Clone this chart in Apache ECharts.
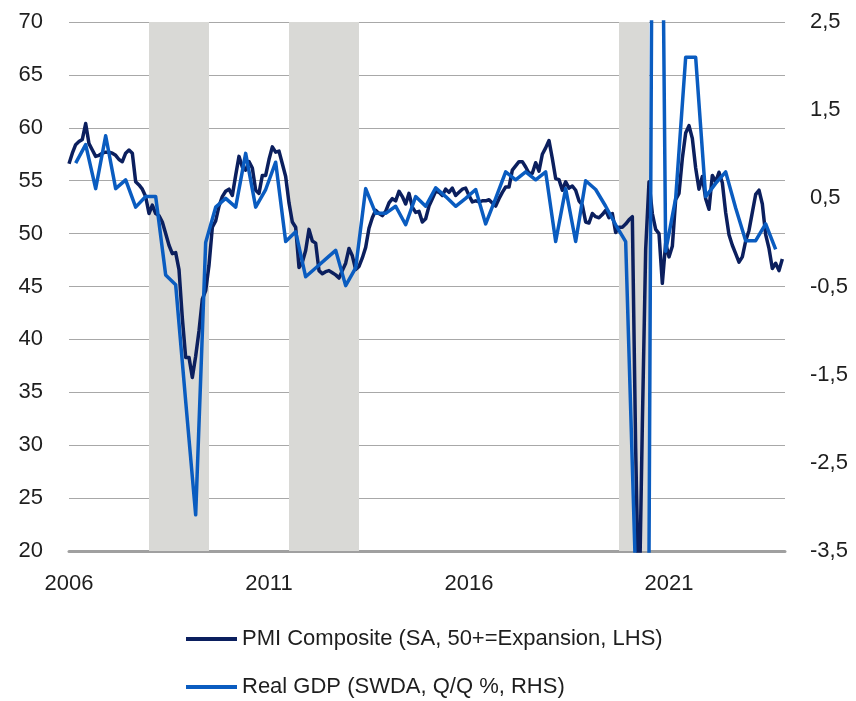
<!DOCTYPE html>
<html>
<head>
<meta charset="utf-8">
<script src="https://cdn.jsdelivr.net/npm/echarts@6/dist/echarts.min.js"></script>
<style>
html,body{margin:0;padding:0;background:#fff;}
#chart{width:856px;height:701px;}
</style>
</head>
<body>
<div id="chart"></div>
<script>
// Monthly PMI Composite, Jan 2006 .. Nov 2023
const pmiStartYear = 2006;
const pmiValues = [
  56.6,57.6,58.4,58.7,58.9,60.4,58.5,57.9,57.3,57.4,57.6,57.7,
  57.7,57.6,57.4,57.0,56.8,57.6,57.9,57.6,54.9,54.6,54.2,53.5,
  51.9,52.7,51.9,51.7,51.1,50.0,48.9,48.1,48.2,46.6,42.0,38.3,
  38.3,36.4,38.4,40.8,43.8,44.6,47.0,50.6,51.2,52.6,53.5,54.0,
  54.2,53.6,55.5,57.3,56.3,56.0,56.8,56.2,54.1,53.8,55.5,55.5,
  57.0,58.2,57.7,57.8,56.6,55.4,52.9,51.1,50.6,46.8,47.3,48.4,
  50.4,49.3,49.1,46.5,46.2,46.4,46.5,46.3,46.1,45.8,46.5,47.2,
  48.6,47.9,46.6,46.9,47.7,48.7,50.5,51.5,52.2,51.9,51.7,52.1,
  52.9,53.3,53.1,54.0,53.5,52.8,53.8,52.5,52.0,52.1,51.1,51.4,
  52.6,53.3,54.0,53.9,53.6,54.2,53.9,54.3,53.6,53.9,54.2,54.3,
  53.6,53.0,53.1,53.0,53.1,53.1,53.2,52.9,52.6,53.3,53.9,54.4,
  54.4,56.0,56.4,56.8,56.8,56.3,55.7,55.7,56.7,55.9,57.5,58.1,
  58.8,57.1,55.2,55.1,54.1,54.9,54.3,54.5,54.1,53.1,52.7,51.1,
  51.0,51.9,51.6,51.5,51.8,52.2,51.5,51.9,50.1,50.6,50.6,50.9,
  51.3,51.6,29.7,13.6,31.9,48.5,54.9,51.9,50.4,50.0,45.3,49.1,
  47.8,48.8,53.2,53.8,57.1,59.5,60.2,59.0,56.2,54.2,55.4,53.3,
  52.3,55.5,54.9,55.8,54.8,52.0,49.9,48.9,48.1,47.3,47.8,49.3,
  50.3,52.0,53.7,54.1,52.8,49.9,48.6,46.7,47.2,46.5,47.6
];
// Quarterly real GDP Q/Q %, 2006Q1 .. 2023Q3
const gdpStartYear = 2006;
const gdpValues = [
  0.90,1.11,0.61,1.21,
  0.61,0.71,0.40,0.52,
  0.52,-0.37,-0.48,-1.80,
  -3.09,0.00,0.40,0.50,
  0.40,1.01,0.40,0.60,
  0.91,0.01,0.12,-0.39,
  -0.29,-0.19,-0.09,-0.49,
  -0.29,0.61,0.33,0.33,
  0.41,0.20,0.52,0.41,
  0.62,0.52,0.41,0.50,
  0.60,0.21,0.50,0.80,
  0.71,0.80,0.71,0.80,
  0.01,0.61,0.01,0.70,
  0.60,0.41,0.20,0.01,
  -3.80,-11.60,12.40,-0.10,
  0.50,2.10,2.10,0.52,
  0.67,0.80,0.39,0.02,
  0.02,0.21,-0.08
];
// Recession periods (decimal years)
const recessionStarts = [2008.0, 2011.5, 2019.75];
const recessionEnds   = [2009.5, 2013.25, 2020.5];
// Axis settings
const xMin = 2006, xMax = 2023.9, xStep = 5;
const leftMin = 20, leftMax = 70, leftStep = 5;
const rightMin = -3.5, rightMax = 2.5, rightStep = 1;
const pmiName = 'PMI Composite (SA, 50+=Expansion, LHS)';
const gdpName = 'Real GDP (SWDA, Q/Q %, RHS)';

const pmiData = pmiValues.map((v, i) => [pmiStartYear + i / 12, v]);
const gdpData = gdpValues.map((v, i) => [gdpStartYear + (3 * i + 2) / 12, v]);
const areas = recessionStarts.map((s, i) => [{xAxis: s}, {xAxis: recessionEnds[i]}]);

const FONT = 'Liberation Sans';
const TXT = '#1e1e1e';
const legendBase = {
  orient: 'horizontal',
  left: 181,
  itemWidth: 51,
  itemHeight: 4,
  icon: 'rect',
  textStyle: {fontFamily: FONT, fontSize: 22, color: TXT, lineHeight: 26}
};
const chart = echarts.init(document.getElementById('chart'), null, {renderer: 'canvas'});
chart.setOption({
  animation: false,
  backgroundColor: '#ffffff',
  textStyle: {fontFamily: FONT},
  grid: {left: 69, top: 22, width: 716, height: 529, containLabel: false},
  legend: [
    Object.assign({}, legendBase, {top: 621, data: [pmiName]}),
    Object.assign({}, legendBase, {top: 669, data: [gdpName]})
  ],
  xAxis: {
    type: 'value',
    min: xMin, max: xMax, interval: xStep,
    axisLine: {show: true, onZero: false, lineStyle: {color: '#a0a0a0', width: 3}},
    axisTick: {show: false},
    splitLine: {show: false},
    axisLabel: {
      fontFamily: FONT, fontSize: 22, color: TXT, margin: 22,
      showMaxLabel: false,
      formatter: v => String(Math.round(v))
    }
  },
  yAxis: [{
    type: 'value',
    min: leftMin, max: leftMax, interval: leftStep,
    position: 'left',
    axisLine: {show: false},
    axisTick: {show: false},
    splitLine: {show: true, lineStyle: {color: '#a8a8a8', width: 1}},
    axisLabel: {fontFamily: FONT, fontSize: 22, color: TXT, margin: 26}
  }, {
    type: 'value',
    min: rightMin, max: rightMax, interval: rightStep,
    position: 'right',
    axisLine: {show: false},
    axisTick: {show: false},
    splitLine: {show: false},
    axisLabel: {
      fontFamily: FONT, fontSize: 22, color: TXT, margin: 25,
      formatter: v => v.toFixed(1).replace('.', ',')
    }
  }],
  series: [{
    name: 'recessions',
    type: 'line',
    data: [],
    z: 1,
    silent: true,
    markArea: {silent: true, itemStyle: {color: '#d9d9d6'}, data: areas}
  }, {
    name: pmiName,
    type: 'line',
    yAxisIndex: 0,
    data: pmiData,
    showSymbol: false,
    symbol: 'none',
    clip: true,
    z: 3,
    color: '#0b1f5e',
    lineStyle: {color: '#0b1f5e', width: 3.5, join: 'round'}
  }, {
    name: gdpName,
    type: 'line',
    yAxisIndex: 1,
    data: gdpData,
    showSymbol: false,
    symbol: 'none',
    clip: true,
    z: 4,
    color: '#0a5cc0',
    lineStyle: {color: '#0a5cc0', width: 3.5, join: 'round'}
  }]
});
</script>
</body>
</html>
